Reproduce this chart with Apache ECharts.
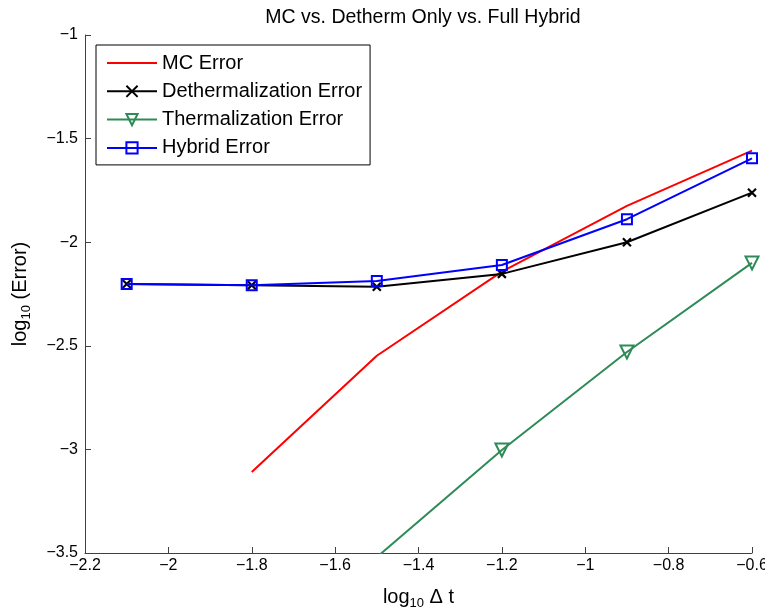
<!DOCTYPE html>
<html>
<head>
<meta charset="utf-8">
<script src="https://cdn.jsdelivr.net/npm/echarts@6/dist/echarts.min.js"></script>
<style>html,body{margin:0;padding:0;background:#fff}#c{width:765px;height:611px}</style>
</head>
<body>
<div id="c"></div>
<script>
const xTicks = [-2.2, -2, -1.8, -1.6, -1.4, -1.2, -1, -0.8, -0.6];
const yTicks = [-3.5, -3, -2.5, -2, -1.5, -1];
const mcX = [-1.8, -1.5, -1.2, -0.9, -0.6];
const mcY = [-3.109, -2.548, -2.142, -1.825, -1.558];
const dethX = [-2.1, -1.8, -1.5, -1.2, -0.9, -0.6];
const dethY = [-2.202, -2.208, -2.215, -2.153, -2.0, -1.761];
const thermX = [-2.1, -1.8, -1.5, -1.2, -0.9, -0.6];
const thermY = [-4.5, -4.02, -3.52, -3.003, -2.53, -2.10];
const hybX = [-2.1, -1.8, -1.5, -1.2, -0.9, -0.6];
const hybY = [-2.202, -2.208, -2.187, -2.11, -1.889, -1.595];

const zip = (a, b) => a.map((v, i) => [v, b[i]]);
const fmt = v => String(+v.toFixed(2)).replace('-', '\u2212');
const FONT = 'Liberation Sans, Arial, Helvetica, sans-serif';
const axisCol = '#404040';
const crossPath = 'path://M0,0L10,10M10,0L0,10';
const nameRich = {
  a: {fontFamily: FONT, fontSize: 20, color: '#000'},
  s: {fontFamily: FONT, fontSize: 13, color: '#000', verticalAlign: 'bottom', padding: [12, 0, 0, 0]}
};

const chart = echarts.init(document.getElementById('c'), null, {renderer: 'canvas'});
chart.setOption({
  animation: false,
  backgroundColor: '#fff',
  title: {
    text: 'MC vs. Detherm Only vs. Full Hybrid',
    left: 418, top: 3, textAlign: 'center',
    textStyle: {fontFamily: FONT, fontSize: 19.5, fontWeight: 'normal', color: '#000'}
  },
  grid: {left: 85, right: 13, top: 35, bottom: 58, containLabel: false, outerBoundsMode: 'none'},
  legend: {
    orient: 'vertical', left: 96, top: 45,
    backgroundColor: '#fff', borderColor: '#000', borderWidth: 1,
    padding: [8, 8, 7, 10], itemWidth: 50, itemHeight: 14, itemGap: 8.3,
    textStyle: {fontFamily: FONT, fontSize: 20, color: '#000'},
    data: [
      {name: 'MC Error', itemStyle: {opacity: 0}},
      'Dethermalization Error', 'Thermalization Error', 'Hybrid Error'
    ]
  },
  xAxis: {
    type: 'value', min: -2.2, max: -0.6, interval: 0.2,
    name: '{a|log}{s|10}{a| \u0394 t}', nameLocation: 'middle', nameGap: 32,
    nameTextStyle: {rich: nameRich},
    axisLine: {onZero: false, lineStyle: {color: axisCol, width: 1}},
    axisTick: {inside: true, length: 6, lineStyle: {color: axisCol}},
    splitLine: {show: false},
    axisLabel: {formatter: fmt, fontFamily: FONT, fontSize: 16, color: '#000', margin: 5}
  },
  yAxis: {
    type: 'value', min: -3.5, max: -1, interval: 0.5,
    name: '{a|log}{s|10}{a| (Error)}', nameLocation: 'middle', nameGap: 52, nameRotate: 90,
    nameTextStyle: {rich: nameRich},
    axisLine: {onZero: false, lineStyle: {color: axisCol, width: 1}},
    axisTick: {inside: true, length: 6, lineStyle: {color: axisCol}},
    splitLine: {show: false},
    axisLabel: {formatter: fmt, fontFamily: FONT, fontSize: 16, color: '#000', margin: 7}
  },
  series: [
    {
      name: 'MC Error', type: 'line', data: zip(mcX, mcY), showSymbol: false, symbol: 'none',
      lineStyle: {color: '#ff0000', width: 2}, itemStyle: {color: '#ff0000'}, z: 2
    },
    {
      name: 'Dethermalization Error', type: 'line', data: zip(dethX, dethY),
      symbol: crossPath, symbolSize: 8,
      lineStyle: {color: '#000', width: 2},
      itemStyle: {color: '#000', borderColor: '#000', borderWidth: 2.2}, z: 3
    },
    {
      name: 'Thermalization Error', type: 'line', data: zip(thermX, thermY),
      symbol: 'triangle', symbolRotate: 180, symbolSize: 13, clip: true,
      lineStyle: {color: '#2e8b57', width: 2},
      itemStyle: {color: 'rgba(255,255,255,0)', borderColor: '#2e8b57', borderWidth: 2}, z: 4
    },
    {
      name: 'Hybrid Error', type: 'line', data: zip(hybX, hybY),
      symbol: 'rect', symbolSize: 10,
      lineStyle: {color: '#0000ff', width: 2},
      itemStyle: {color: 'rgba(255,255,255,0)', borderColor: '#0000ff', borderWidth: 2}, z: 5
    }
  ]
});
</script>
</body>
</html>
